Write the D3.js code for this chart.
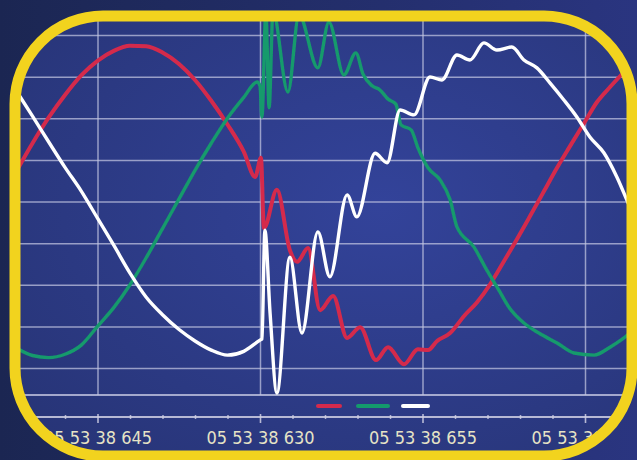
<!DOCTYPE html>
<html><head><meta charset="utf-8">
<script src="https://cdn.jsdelivr.net/npm/d3@7/dist/d3.min.js"></script>
<style>html,body{margin:0;padding:0;background:#1d2858;overflow:hidden}</style>
</head><body>
<svg id="chart" width="637" height="460"></svg>
<script>
// ---- data (time in ms, level in divisions) ----
const majorTicks = [0, 5, 10, 15];
const tickLabels = ["05 53 38 645", "05 53 38 630", "05 53 38 655", "05 53 38 670"];
const minorTicks = [-2, -1, 1, 2, 3, 4, 6, 7, 8, 9, 11, 12, 13, 14, 16];
const levelTicks = [-4, -3, -2, -1, 0, 1, 2, 3, 4];
const seriesNames = ["L1", "L2", "L3"];

const redPoints = [
  [-2.5,0.72],[-2.0,1.4],[-1.5,2.02],[-1.0,2.56],[-0.5,3.03],[0,3.38],[0.5,3.62],[1.0,3.74],
  [1.5,3.73],[2.0,3.58],[2.5,3.31],[3.0,2.92],[3.5,2.42],[4.0,1.85],[4.5,1.2],[4.85,0.59],
  [5.03,1.05],[5.12,-0.64],[5.52,0.28],[5.92,-1.17],[6.14,-1.45],[6.48,-1.12],[6.85,-2.61],
  [7.25,-2.27],[7.68,-3.28],[8.08,-3.02],[8.57,-3.81],[8.94,-3.5],[9.43,-3.91],[9.86,-3.55],
  [10.17,-3.57],[10.45,-3.35],[10.85,-3.16],[11.28,-2.75],[11.68,-2.42],[12.08,-1.99],
  [12.51,-1.43],[12.91,-0.9],[13.31,-0.35],[13.74,0.25],[14.14,0.81],[14.54,1.33],
  [14.97,1.88],[15.37,2.39],[15.77,2.75],[16.38,3.26],[16.8,3.6]
];
const greenPoints = [
  [-2.5,-3.52],[-2.0,-3.7],[-1.5,-3.75],[-1.0,-3.67],[-0.5,-3.45],[0,-3.0],[0.5,-2.55],
  [1.0,-2.0],[1.5,-1.35],[2.0,-0.65],[2.5,0.05],[3.0,0.75],[3.5,1.4],[4.0,2.0],[4.5,2.5],
  [4.91,2.87],[5.0,2.78],[5.06,2.03],[5.18,4.56],[5.28,2.25],[5.4,4.56],[5.86,2.63],
  [6.2,4.48],[6.78,3.21],[7.12,4.31],[7.58,3.04],[7.95,3.57],[8.17,3.06],[8.45,2.78],
  [8.69,2.68],[8.94,2.46],[9.18,2.34],[9.34,1.84],[9.65,1.72],[9.86,1.29],[10.17,0.81],
  [10.54,0.52],[10.85,0.04],[11.06,-0.61],[11.58,-1.09],[11.98,-1.65],[12.35,-2.13],
  [12.66,-2.54],[13.12,-2.92],[13.58,-3.16],[14.14,-3.4],[14.66,-3.64],[15.28,-3.69],
  [15.77,-3.5],[16.38,-3.16],[16.8,-2.8]
];
const whitePoints = [
  [-2.5,2.66],[-2.0,2.05],[-1.5,1.43],[-1.0,0.82],[-0.5,0.25],[0,-0.4],[0.5,-1.05],
  [1.0,-1.72],[1.5,-2.3],[2.0,-2.72],[2.5,-3.07],[3.0,-3.35],[3.5,-3.57],[4.0,-3.69],
  [4.5,-3.6],[5.0,-3.33],[5.06,-3.3],[5.15,-0.69],[5.31,-2.68],[5.52,-4.6],[5.92,-1.34],
  [6.29,-3.16],[6.78,-0.73],[7.15,-1.81],[7.68,0.16],[7.98,-0.37],[8.54,1.16],[8.91,0.93],
  [9.31,2.2],[9.74,2.08],[10.23,2.99],[10.6,2.92],[11.06,3.52],[11.46,3.4],[11.89,3.81],
  [12.29,3.64],[12.75,3.71],[13.12,3.4],[13.52,3.21],[13.92,2.85],[14.35,2.44],[14.75,2.03],
  [15.15,1.55],[15.58,1.17],[15.98,0.59],[16.38,-0.13],[16.8,-0.8]
];
const seriesColors = ["#d42a4c", "#149a6c", "#ffffff"];

// ---- drawing ----
const svg = d3.select("#chart");
const W = 637, H = 460;
const x = d3.scaleLinear().domain([0, 15]).range([97.5, 585]);
const y = d3.scaleLinear().domain([-4, 4]).range([368, 35]);

const defs = svg.append("defs");
const bg = defs.append("linearGradient").attr("id", "bg").attr("x1", 0).attr("x2", 1).attr("y1", 0).attr("y2", 0);
bg.append("stop").attr("offset", "0%").attr("stop-color", "#1b2652");
bg.append("stop").attr("offset", "100%").attr("stop-color", "#2a3580");
const inner = defs.append("radialGradient").attr("id", "inner").attr("cx", "60%").attr("cy", "45%").attr("r", "75%");
inner.append("stop").attr("offset", "0%").attr("stop-color", "#33439a");
inner.append("stop").attr("offset", "100%").attr("stop-color", "#273476");
defs.append("clipPath").attr("id", "clip").append("rect")
  .attr("x", 20).attr("y", 21).attr("width", 607).attr("height", 430).attr("rx", 80).attr("ry", 80);
const blur = defs.append("filter").attr("id", "soft");
blur.append("feGaussianBlur").attr("stdDeviation", 0.45);

svg.append("rect").attr("width", W).attr("height", H).attr("fill", "url(#bg)");

const g = svg.append("g").attr("clip-path", "url(#clip)");
g.append("rect").attr("x", 0).attr("y", 0).attr("width", W).attr("height", H).attr("fill", "url(#inner)");

const gridColor = "#c4c6e2";
// horizontal grid
const hg = g.append("g").attr("transform", "translate(20,0)")
  .call(d3.axisLeft(y).tickValues(levelTicks).tickSize(-610).tickFormat(""));
hg.select(".domain").remove();
hg.selectAll("line").attr("stroke", gridColor).attr("stroke-width", 1.5).attr("opacity", 0.72);
// vertical grid
const vg = g.append("g").attr("transform", "translate(0,395)")
  .call(d3.axisBottom(x).tickValues(majorTicks).tickSize(-380).tickFormat(""));
vg.select(".domain").remove();
vg.selectAll("line").attr("stroke", gridColor).attr("stroke-width", 1.5).attr("opacity", 0.72);
// bottom frame line
g.append("line").attr("x1", x(-3)).attr("x2", x(17)).attr("y1", 395).attr("y2", 395)
  .attr("stroke", gridColor).attr("stroke-width", 1.8).attr("opacity", 0.8);

// time axis
const axisY = 417;
g.append("line").attr("x1", x(-3)).attr("x2", x(17)).attr("y1", axisY).attr("y2", axisY)
  .attr("stroke", "#d0d0e4").attr("stroke-width", 2).attr("opacity", 0.85);
const mi = g.append("g").attr("transform", `translate(0,${axisY - 2})`)
  .call(d3.axisBottom(x).tickValues(minorTicks).tickSize(4).tickFormat(""));
mi.select(".domain").remove();
mi.selectAll("line").attr("stroke", "#d0d0e4").attr("stroke-width", 1.5).attr("opacity", 0.8);
const ma = g.append("g").attr("transform", `translate(0,${axisY - 3})`)
  .call(d3.axisBottom(x).tickValues(majorTicks).tickSize(9).tickPadding(9)
    .tickFormat((d, i) => tickLabels[i]));
ma.select(".domain").remove();
ma.selectAll("line").attr("stroke", "#d0d0e4").attr("stroke-width", 1.6).attr("opacity", 0.85);
ma.selectAll("text")
  .attr("fill", "#e6e3c6")
  .attr("font-family", "'Liberation Sans Narrow','DejaVu Sans Condensed',sans-serif")
  .attr("font-size", 17)
  .attr("textLength", 108).attr("lengthAdjust", "spacingAndGlyphs");

// legend
const legendX = [[318, 340], [358, 388], [403, 428]];
g.append("g").selectAll("line").data(seriesNames).join("line")
  .attr("x1", (d, i) => legendX[i][0]).attr("x2", (d, i) => legendX[i][1])
  .attr("y1", 406).attr("y2", 406)
  .attr("stroke", (d, i) => seriesColors[i]).attr("stroke-width", 4).attr("stroke-linecap", "round");

// waveforms
const line = d3.line().x(d => x(d[0])).y(d => y(d[1])).curve(d3.curveMonotoneX);
const series = [redPoints, greenPoints, whitePoints];
const widths = [4, 3.4, 3.4];
g.append("g").attr("filter", "url(#soft)").selectAll("path").data(series).join("path")
  .attr("d", line).attr("fill", "none")
  .attr("stroke", (d, i) => seriesColors[i]).attr("stroke-width", (d, i) => widths[i])
  .attr("stroke-linejoin", "round").attr("stroke-linecap", "round");

// yellow frame
svg.append("rect").attr("x", 15).attr("y", 16).attr("width", 617).attr("height", 440)
  .attr("rx", 88).attr("ry", 88).attr("fill", "none")
  .attr("stroke", "#f2d31e").attr("stroke-width", 11);
</script>
</body></html>
